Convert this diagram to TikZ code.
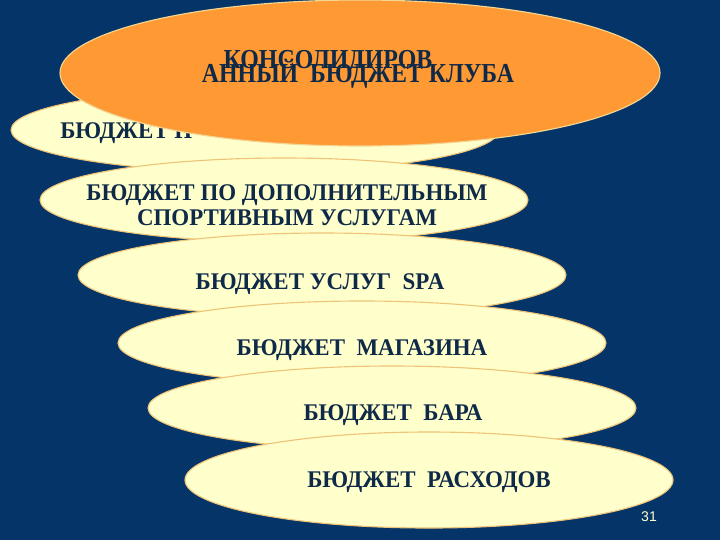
\documentclass[tikz,border=0pt]{standalone}
\usepackage{fontspec}
\setmainfont{Liberation Serif}
\setsansfont{Liberation Sans}
\newfontfamily\budgetfont[FakeStretch=0.96]{Liberation Serif}
\newfontfamily\clubfont[FakeStretch=0.87]{Liberation Serif}
\usetikzlibrary{shapes.geometric}
\definecolor{bgblue}{RGB}{4,52,104}
\definecolor{paleyel}{RGB}{255,255,204}
\definecolor{rimtan}{RGB}{238,196,120}
\definecolor{clubor}{RGB}{255,153,51}
\definecolor{inknavy}{RGB}{14,42,72}

\begin{document}
\begin{tikzpicture}[x=0.025cm,y=-0.025cm,
    budget/.style={ellipse,draw=rimtan,line width=0.8pt,fill=paleyel,inner sep=0pt,
        minimum width=488*0.025cm,minimum height=84*0.025cm},
    lbl/.style={text=inknavy,font=\budgetfont\bfseries\fontsize{17}{18}\selectfont,inner sep=0pt},
    clublbl/.style={text=inknavy,font=\clubfont\bfseries\fontsize{19.5}{20}\selectfont,inner sep=0pt}]
    \useasboundingbox (0,0) rectangle (720,540);
    \fill[bgblue] (0,0) rectangle (720,540);
    % budgets, lowest first
    \node[budget] (b1) at (255,130) {};
    \node[lbl,anchor=west] (t1) at (60,133) {БЮДЖЕТ П};
    \node[budget] (b2) at (284,200) {};
    \node[lbl,align=center,font=\budgetfont\bfseries\fontsize{17}{17.8}\selectfont] (t2) at (287,205) {БЮДЖЕТ ПО ДОПОЛНИТЕЛЬНЫМ\\СПОРТИВНЫМ УСЛУГАМ};
    \node[budget] (b3) at (322,275) {};
    \node[lbl] (t3) at (320,284) {БЮДЖЕТ УСЛУГ\ \ SPA};
    \node[budget] (b4) at (362,343) {};
    \node[lbl] (t4) at (362,350) {БЮДЖЕТ\ \ МАГАЗИНА};
    \node[budget] (b5) at (392,408) {};
    \node[lbl] (t5) at (393,415) {БЮДЖЕТ\ \ БАРА};
    \node[budget,minimum height=96*0.025cm] (b6) at (429,480) {};
    \node[lbl] (t6) at (429,482) {БЮДЖЕТ\ \ РАСХОДОВ};
    % consolidated
    \node[budget,fill=clubor,draw=rimtan!70!paleyel,minimum width=600*0.025cm,minimum height=146*0.025cm] (club) at (360,73) {};
    \node[clublbl] (c1) at (328,62) {КОНСОЛИДИРОВ};
    \node[clublbl] (c2) at (358,74) {АННЫЙ\ \ БЮДЖЕТ КЛУБА};
    \node[text=paleyel,font=\sffamily\fontsize{10}{12}\selectfont,inner sep=0pt] (pg) at (649,517) {31};
\end{tikzpicture}
\end{document}
